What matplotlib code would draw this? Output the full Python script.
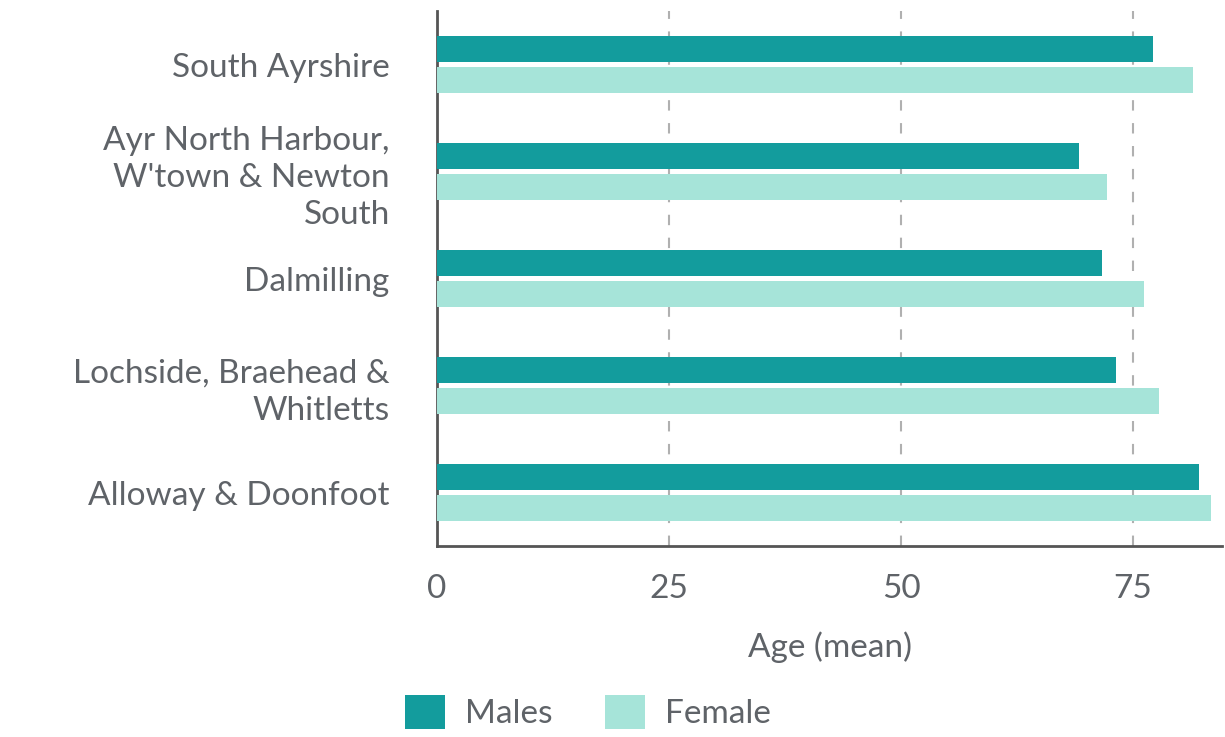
import matplotlib.pyplot as plt
import numpy as np

plt.rcParams['font.family'] = ['Lato', 'DejaVu Sans']

areas = ['South Ayrshire', "Ayr North Harbour,\nW'town & Newton\nSouth", 'Dalmilling',
         'Lochside, Braehead &\nWhitletts', 'Alloway & Doonfoot']
males = [77.2, 69.2, 71.6, 73.2, 82.1]
female = [81.5, 72.2, 76.2, 77.8, 83.4]

male_col = '#139c9d'
female_col = '#a6e4d9'
text_col = '#5f6368'

fig = plt.figure(figsize=(12.25, 7.37), dpi=100)
ax = fig.add_axes([0.3567, 0.259, 0.641, 0.726])

y = np.arange(len(areas))
h = 0.245
ax.barh(y - 0.147, males, height=h, color=male_col, label='Males', zorder=3)
ax.barh(y + 0.147, female, height=h, color=female_col, label='Female', zorder=3)

ax.set_ylim(len(areas) - 0.5, -0.5)
ax.set_xlim(0, 84.6)
ax.set_yticks(y)
ax.set_yticklabels(areas, fontsize=24, color=text_col, linespacing=1.3)
ax.set_xticks([0, 25, 50, 75])
ax.tick_params(axis='x', labelsize=24, labelcolor=text_col, length=0, pad=20)
ax.tick_params(axis='y', length=0, pad=34)

for v in [25, 50, 75]:
    ax.axvline(v, color='#b0b0b0', linestyle=(0, (5, 6)), linewidth=1.5, zorder=1)

for s in ['top', 'right']:
    ax.spines[s].set_visible(False)
for s in ['left', 'bottom']:
    ax.spines[s].set_color('#555555')
    ax.spines[s].set_linewidth(2)

ax.set_xlabel('Age (mean)', fontsize=24, color=text_col, labelpad=20)

fig.legend(loc='lower center', bbox_to_anchor=(0.48, -0.03), ncol=2, frameon=False,
           fontsize=24, handlelength=1.2, handleheight=1.2, columnspacing=1.6,
           handletextpad=0.6, labelcolor=text_col)

fig.savefig('out.png', dpi=100)
